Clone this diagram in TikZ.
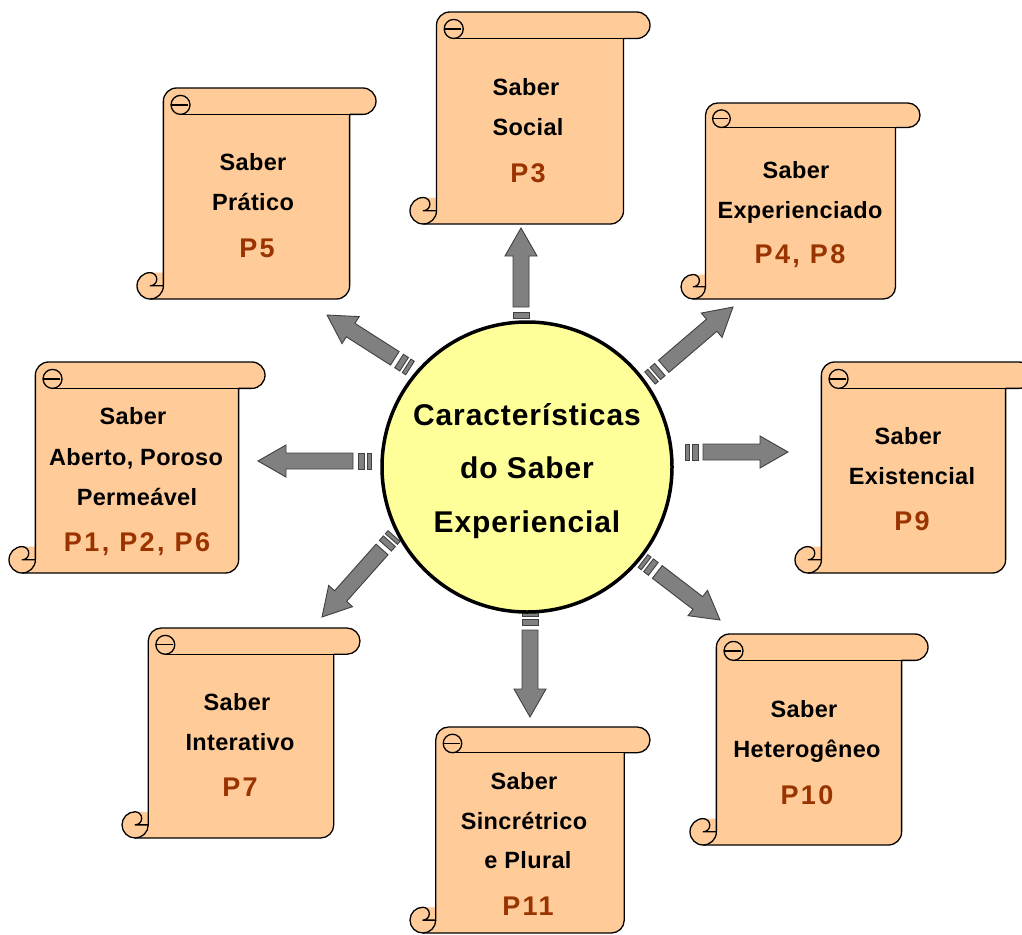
\documentclass[tikz,border=0pt]{standalone}
\usepackage{fontspec}
\setmainfont{Liberation Sans}
\newfontfamily\lblfont[LetterSpace=1.5]{Liberation Sans}
\newfontfamily\pfont[LetterSpace=9]{Liberation Sans}
\newfontfamily\cfont[LetterSpace=3]{Liberation Sans}
\definecolor{scrollfill}{HTML}{FFCC99}
\definecolor{ptext}{HTML}{993300}
\definecolor{circfill}{HTML}{FFFF99}
\definecolor{arrowfill}{HTML}{808080}
\tikzset{
  scrollline/.style={draw=black, line width=1.3pt, line join=round},
  lbl/.style={font=\lblfont\fontsize{23.5}{28}\selectfont\bfseries, anchor=base, inner sep=0pt},
  plbl/.style={font=\pfont\fontsize{27}{32}\selectfont\bfseries, text=ptext, anchor=base, inner sep=0pt},
  ctext/.style={font=\cfont\fontsize{30}{36}\selectfont\bfseries, anchor=base, inner sep=0pt},
  blockarrow/.style={fill=arrowfill, draw=black!75, line width=0.9pt, line join=miter},
}
\newcommand\scrollbox[4]{%
  \pgfmathsetmacro\sL{#1}\pgfmathsetmacro\sT{#2}%
  \pgfmathsetmacro\sR{#3}\pgfmathsetmacro\sB{#4}%
  \pgfmathsetmacro\sc{0.125*min(#3-#1,#4-#2)}%
  \pgfmathsetmacro\sh{\sc/2}\pgfmathsetmacro\sq{\sc/4}%
  \pgfmathsetmacro\er{0.36*\sc}%
  \pgfmathsetmacro\ex{\sL+1.65*\sc}\pgfmathsetmacro\ey{\sT+\sc-\er}%
  \fill[scrollfill] (\sL+\sc,\sB-\sc) -- (\sL+\sc,\sT+\sh)
     arc[start angle=180,end angle=90,radius=\sh pt] -- (\sR-\sh,\sT)
     arc[start angle=90,end angle=-90,radius=\sh pt] -- (\sR-\sc,\sT+\sc)
     -- (\sR-\sc,\sB-\sh) arc[start angle=0,end angle=-90,radius=\sh pt]
     -- (\sL+\sh,\sB) arc[start angle=270,end angle=90,radius=\sh pt] -- cycle;
  \draw[scrollline] (\sL+\sc,\sB-\sh) -- (\sL+\sc,\sT+\sh)
     arc[start angle=180,end angle=90,radius=\sh pt] -- (\sR-\sh,\sT)
     arc[start angle=90,end angle=-90,radius=\sh pt] -- (\sR-\sc,\sT+\sc)
     -- (\sR-\sc,\sB-\sh) arc[start angle=0,end angle=-90,radius=\sh pt]
     -- (\sL+\sh,\sB) arc[start angle=270,end angle=90,radius=\sh pt]
     arc[start angle=90,end angle=-90,radius=\sq pt] -- cycle;
  \draw[scrollline] (\sL+\sh,\sB) arc[start angle=270,end angle=360,radius=\sh pt];
  \draw[scrollline] (\sR-\sc,\sT+\sc) -- (\ex,\sT+\sc);
  \draw[scrollline] (\ex,\ey) circle[radius=\er pt];
  \draw[scrollline] (\ex-\er,\ey) -- (\ex+0.8*\er,\ey);
}
\newcommand\stripearrow[4]{%
  \pgfmathsetmacro\aL{veclen(#3-#1,#4-#2)}%
  \pgfmathsetmacro\aA{atan2(#2-#4,#3-#1)}%
  \begin{scope}[shift={(#1,#2)}, rotate=\aA]
    \path[blockarrow] (0,-8) rectangle (4,8);
    \path[blockarrow] (7,-8) rectangle (13,8);
    \path[blockarrow] (18,-8) -- (\aL-28,-8) -- (\aL-28,-16) -- (\aL,0)
       -- (\aL-28,16) -- (\aL-28,8) -- (18,8) -- cycle;
  \end{scope}}
\begin{document}
\begin{tikzpicture}[x=1pt,y=-1pt]
\useasboundingbox (0,0) rectangle (1022,934);
\fill[white] (0,0) rectangle (1022,934);
\clip (0,0) rectangle (1022,934);

% scrolls
\scrollbox{410}{12}{650}{224}
\scrollbox{137}{88}{376}{299}
\scrollbox{681}{103}{920}{299}
\scrollbox{9}{362}{265}{573}
\scrollbox{795}{362}{1032}{573}
\scrollbox{122}{628}{360}{838}
\scrollbox{410}{727}{650}{933}
\scrollbox{690}{634}{928}{845}

% arrows
\stripearrow{521}{325}{521}{228}
\stripearrow{530}{612}{530}{717}
\stripearrow{371}{461}{258}{461}
\stripearrow{685}{452}{788}{452}
\stripearrow{410}{368}{327}{315}
\stripearrow{650}{378}{733}{307}
\stripearrow{394}{536}{322}{617}
\stripearrow{643}{561}{720}{620}

% centre
\node[circle, draw=black, line width=3.5pt, fill=circfill, minimum size=290pt, inner sep=0pt] (hub) at (527,467) {};
\node[ctext] (c1) at (527,425) {Características};
\node[ctext] (c2) at (527,478) {do Saber};
\node[ctext] (c3) at (527,532) {Experiencial};

% texts
\node[lbl] (s3a) at (526,95) {Saber};
\node[lbl] (s3b) at (528,135) {Social};
\node[plbl] (s3c) at (528,182) {P3};

\node[lbl] (s5a) at (253,170) {Saber};
\node[lbl] (s5b) at (253,210) {Prático};
\node[plbl] (s5c) at (257,257) {P5};

\node[lbl] (s4a) at (796,178) {Saber};
\node[lbl] (s4b) at (800,218) {Experienciado};
\node[plbl] (s4c) at (800,263) {P4, P8};

\node[lbl] (s1a) at (133,424) {Saber};
\node[lbl] (s1b) at (136,465) {Aberto, Poroso};
\node[lbl] (s1c) at (137,505) {Permeável};
\node[plbl] (s1d) at (137,551) {P1, P2, P6};

\node[lbl] (s9a) at (908,444) {Saber};
\node[lbl] (s9b) at (912,484) {Existencial};
\node[plbl] (s9c) at (912,530) {P9};

\node[lbl] (s7a) at (237,710) {Saber};
\node[lbl] (s7b) at (240,750) {Interativo};
\node[plbl] (s7c) at (240,796) {P7};

\node[lbl] (s11a) at (524,789) {Saber};
\node[lbl] (s11b) at (524,829) {Sincrétrico};
\node[lbl] (s11c) at (528,868) {e Plural};
\node[plbl] (s11d) at (528,915) {P11};

\node[lbl] (s10a) at (804,717) {Saber};
\node[lbl] (s10b) at (807,757) {Heterogêneo};
\node[plbl] (s10c) at (807,804) {P10};
\end{tikzpicture}
\end{document}
